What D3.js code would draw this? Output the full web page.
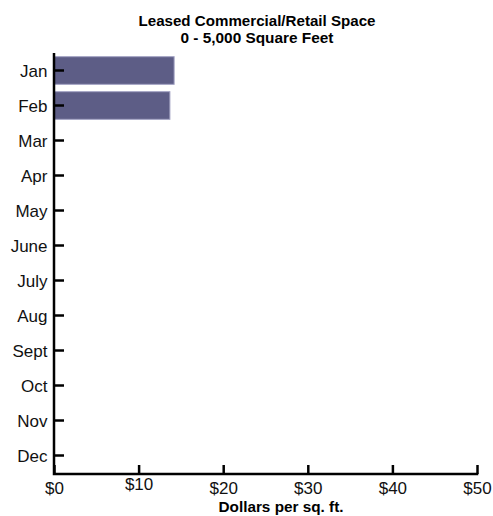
<!DOCTYPE html>
<html>
<head>
<meta charset="utf-8">
<script src="https://cdn.jsdelivr.net/npm/d3@7/dist/d3.min.js"></script>
<style>
  html, body { margin: 0; padding: 0; background: #fff; }
  svg { display: block; }
  .lbl { font-family: "Liberation Sans", Arial, sans-serif; font-size: 17px; fill: #111; }
  .ttl { font-family: "Liberation Sans", Arial, sans-serif; font-weight: bold; font-size: 15px; fill: #000; }
</style>
</head>
<body>
<svg id="chart" width="493" height="516"></svg>
<script>
const months = ["Jan","Feb","Mar","Apr","May","June","July","Aug","Sept","Oct","Nov","Dec"];
const values = [14.2, 13.7, null, null, null, null, null, null, null, null, null, null];
const xTicks = [0, 10, 20, 30, 40, 50];
const titleLines = ["Leased Commercial/Retail Space", "0 - 5,000 Square Feet"];
const xTitle = "Dollars per sq. ft.";

const svg = d3.select("#chart");
const x = d3.scaleLinear().domain([0, 50]).range([54, 477]);
const y = d3.scaleBand().domain(months).range([53, 473]).paddingInner(0.21).paddingOuter(0.105);

// bars
svg.append("g").selectAll("rect")
  .data(months.map((m, i) => ({m, v: values[i]})).filter(d => d.v != null))
  .join("rect")
  .attr("x", x(0))
  .attr("y", d => y(d.m))
  .attr("width", d => x(d.v) - x(0))
  .attr("height", y.bandwidth())
  .attr("fill", "#5d5d86")
  .attr("stroke", "#a3a3c4")
  .attr("stroke-width", 1);

// y axis
const yAxis = svg.append("g").attr("transform", `translate(${x(0)},0)`)
  .call(d3.axisLeft(y).tickSizeInner(-10).tickSizeOuter(0).tickPadding(6.5));
yAxis.select(".domain").remove();
yAxis.selectAll(".tick line").attr("stroke", "#000").attr("stroke-width", 2.5);
yAxis.selectAll(".tick text").attr("class", "lbl").attr("fill", null).attr("dy", "0.4em");
yAxis.attr("font-size", null).attr("font-family", null);

// x axis
const xAxis = svg.append("g").attr("transform", `translate(0,474)`)
  .call(d3.axisBottom(x).tickValues(xTicks).tickFormat(d => "$" + d).tickSizeInner(-9).tickSizeOuter(0).tickPadding(8));
xAxis.select(".domain").remove();
xAxis.selectAll(".tick line").attr("stroke", "#000").attr("stroke-width", 2.5);
xAxis.selectAll(".tick text").attr("class", "lbl").attr("fill", null)
  .attr("dy", d => d === 10 ? "0.45em" : "0.71em");
xAxis.attr("font-size", null).attr("font-family", null);

// axis lines
svg.append("path")
  .attr("d", `M${x(0)},53V474H${x(50) + 1.25}`)
  .attr("fill", "none").attr("stroke", "#000").attr("stroke-width", 2.5);

// titles
svg.append("text").attr("class", "ttl").attr("text-anchor", "middle")
  .attr("x", 257).attr("y", 26).attr("textLength", 237).attr("lengthAdjust", "spacingAndGlyphs").text(titleLines[0]);
svg.append("text").attr("class", "ttl").attr("text-anchor", "middle")
  .attr("x", 257).attr("y", 42.5).attr("textLength", 153).attr("lengthAdjust", "spacingAndGlyphs").text(titleLines[1]);
svg.append("text").attr("class", "ttl").attr("text-anchor", "middle")
  .attr("x", 281).attr("y", 512).attr("textLength", 125).attr("lengthAdjust", "spacingAndGlyphs").text(xTitle);
</script>
</body>
</html>
